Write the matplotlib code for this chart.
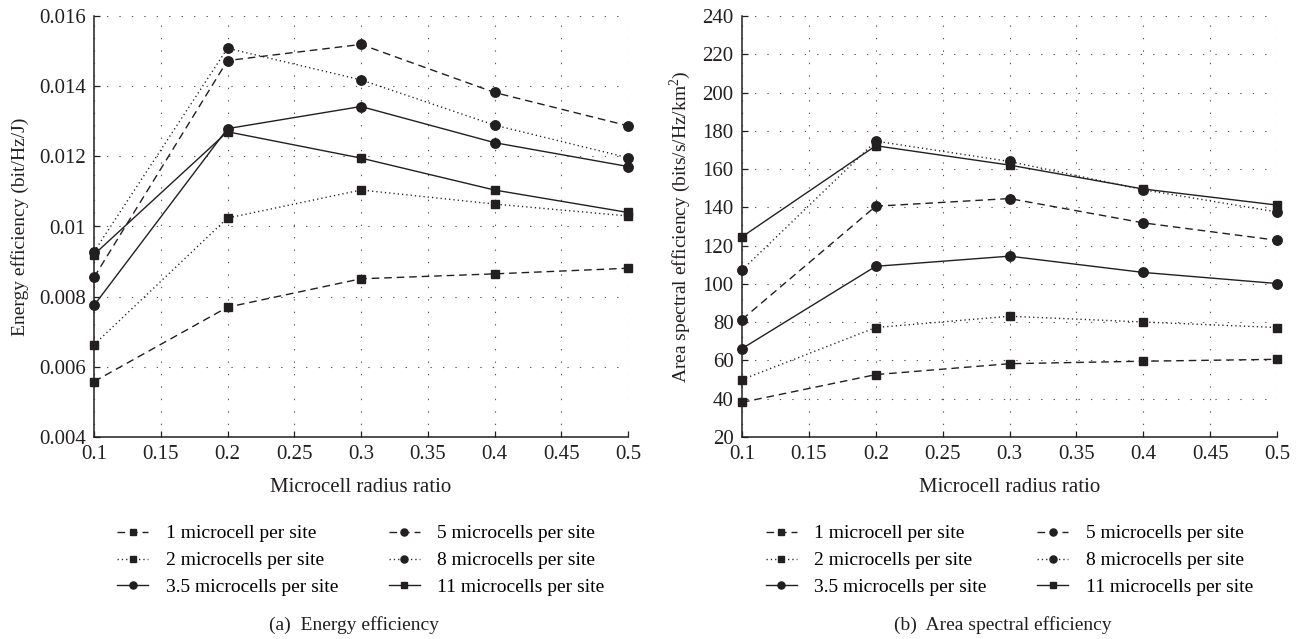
import matplotlib
matplotlib.use("Agg")
import matplotlib.pyplot as plt
from matplotlib.ticker import FuncFormatter
from matplotlib.lines import Line2D

# ---------------- data ----------------
radius_ratio = [0.1, 0.2, 0.3, 0.4, 0.5]
series_labels = ["1 microcell per site", "2 microcells per site", "3.5 microcells per site",
                 "5 microcells per site", "8 microcells per site", "11 microcells per site"]

ee_1 = [0.00558, 0.00770, 0.00851, 0.00865, 0.00881]
ee_2 = [0.00663, 0.01024, 0.01104, 0.01064, 0.01030]
ee_35 = [0.00775, 0.01279, 0.01342, 0.01239, 0.01171]
ee_5 = [0.00855, 0.01473, 0.01519, 0.01382, 0.01287]
ee_8 = [0.00928, 0.01508, 0.01418, 0.01289, 0.01196]
ee_11 = [0.00920, 0.01270, 0.01195, 0.01104, 0.01040]

ase_1 = [38.1, 52.6, 58.3, 59.6, 60.6]
ase_2 = [50.0, 77.2, 83.1, 80.1, 77.2]
ase_35 = [66.2, 109.2, 114.5, 106.0, 100.2]
ase_5 = [81.4, 140.6, 144.6, 131.9, 122.8]
ase_8 = [107.2, 174.6, 164.0, 149.2, 137.6]
ase_11 = [124.6, 172.2, 162.1, 149.6, 141.2]

x_ticks = [0.1, 0.15, 0.2, 0.25, 0.3, 0.35, 0.4, 0.45, 0.5]
ee_ticks = [0.004, 0.006, 0.008, 0.010, 0.012, 0.014, 0.016]
ase_ticks = [20, 40, 60, 80, 100, 120, 140, 160, 180, 200, 220, 240]

# ---------------- style ----------------
INK = "#231f20"
plt.rcParams["font.family"] = ["Liberation Serif", "DejaVu Serif"]
plt.rcParams["mathtext.fontset"] = "custom"
plt.rcParams["mathtext.rm"] = "Liberation Serif"

DASH = (0, (5.5, 3.5))
DOT = (0, (0.9, 2.2))
styles = [
    dict(ls=DASH, marker="s", ms=5.5),
    dict(ls=DOT, marker="s", ms=5.5),
    dict(ls="-", marker="o", ms=6.8),
    dict(ls=DASH, marker="o", ms=6.8),
    dict(ls=DOT, marker="o", ms=6.8),
    dict(ls="-", marker="s", ms=5.5),
]

fig = plt.figure(figsize=(13.01, 6.39), dpi=100)
ax1 = fig.add_axes([94 / 1301, 1 - 437 / 639, 534 / 1301, 421 / 639])
ax2 = fig.add_axes([742 / 1301, 1 - 437 / 639, 535 / 1301, 421 / 639])

panels = [
    (ax1, [ee_1, ee_2, ee_35, ee_5, ee_8, ee_11], ee_ticks, "Energy efficiency (bit/Hz/J)", "(a)  Energy efficiency"),
    (ax2, [ase_1, ase_2, ase_35, ase_5, ase_8, ase_11], ase_ticks,
     "Area spectral efficiency (bits/s/Hz/km$^2$)", "(b)  Area spectral efficiency"),
]

for ax, data, yt, ylabel, caption in panels:
    for vals, st in zip(data, styles):
        ax.plot(radius_ratio, vals, color=INK, lw=1.0, ls=st["ls"], marker=st["marker"],
                ms=st["ms"], mfc=INK, mec=INK, clip_on=False, zorder=3)
    ax.set_xlim(x_ticks[0], x_ticks[-1])
    ax.set_ylim(yt[0], yt[-1])
    ax.set_xticks(x_ticks)
    ax.set_yticks(yt)
    fmt = FuncFormatter(lambda v, p: "%g" % round(v, 6))
    ax.xaxis.set_major_formatter(fmt)
    ax.yaxis.set_major_formatter(fmt)
    ax.grid(True, color="#555555", lw=0.8, ls=(0, (1.2, 10)))
    for s in ("top", "right"):
        ax.spines[s].set_visible(False)
    for s in ("left", "bottom"):
        ax.spines[s].set_color(INK)
        ax.spines[s].set_linewidth(1.1)
    ax.tick_params(direction="in", length=4, width=0.9, colors=INK, labelsize=15, pad=6)
    ax.set_xlabel("Microcell radius ratio", fontsize=15, color=INK, labelpad=10)
    ax.set_ylabel(ylabel, fontsize=14, color=INK, labelpad=7)

    handles = [Line2D([0], [0], color=INK, lw=1.0, ls=st["ls"], marker=st["marker"],
                      ms=st["ms"] * 0.75, mfc=INK, mec=INK) for st in styles]
    pos = ax.get_position()
    ax.legend(handles, series_labels, ncol=2, frameon=False, fontsize=14,
              loc="upper center", bbox_to_anchor=(0.5, -0.19), handlelength=1.6,
              handletextpad=0.9, columnspacing=2.6, labelspacing=0.48, borderaxespad=0)
    fig.text(pos.x0 + pos.width / 2 - 0.005, 1 - 625 / 639, caption, ha="center", va="center",
             fontsize=14, color=INK)

fig.savefig("out.png", dpi=100)
